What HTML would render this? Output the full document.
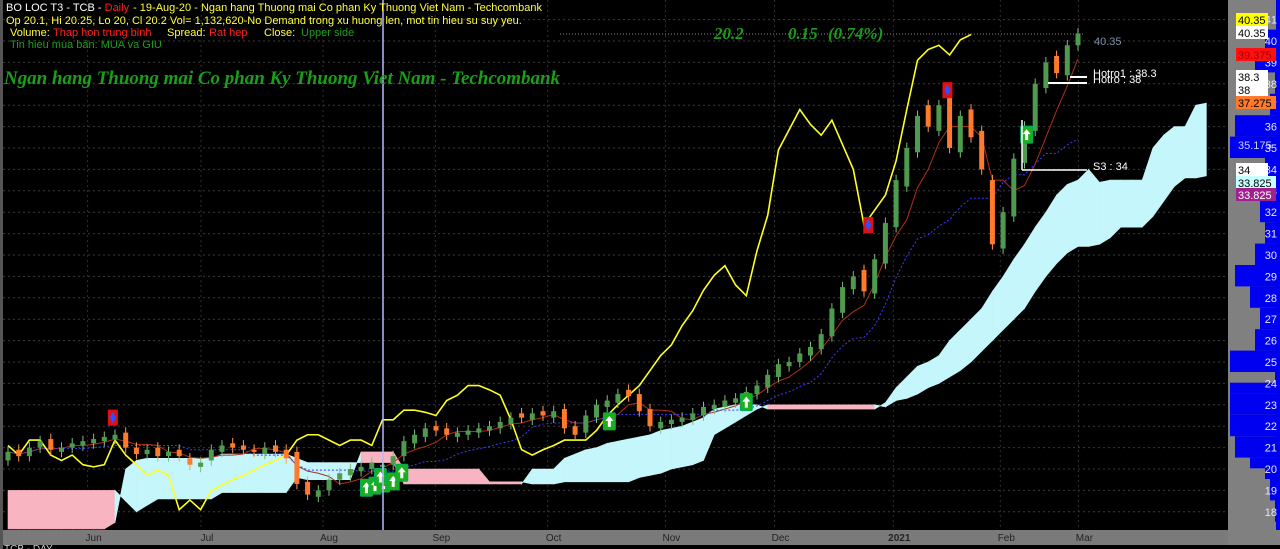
<!DOCTYPE html>
<html><head><meta charset="utf-8">
<style>
html,body{margin:0;padding:0;background:#000;width:1280px;height:549px;overflow:hidden}
svg{display:block}
.sans{font-family:"Liberation Sans",sans-serif}
.serif{font-family:"Liberation Serif",serif;font-style:italic}
</style></head>
<body>
<svg id="chart" class="sans" width="1280" height="549" viewBox="0 0 1280 549" xmlns="http://www.w3.org/2000/svg">
  <rect x="0" y="0" width="1280" height="549" fill="#000"/>
  <rect x="0" y="0" width="3" height="549" fill="#555"/>
  <rect x="1228" y="0" width="52" height="545" fill="#808080"/>
  <g id="grid"></g>
  <g id="profile"></g>
  <g id="cloud"></g>
  <g id="lines"></g>
  <g id="candles"></g>
  <g id="signals"></g>
  <line x1="383" y1="0" x2="383" y2="530" stroke="#b8b8ff" stroke-width="1.5"/>
  <rect x="3" y="530" width="1225" height="15" fill="#7a7a7a"/>
  <g id="xaxis"></g>
  <g id="yaxis"></g>
  <g font-size="11">
    <text x="6" y="11"><tspan fill="#fff">BO LOC T3 - TCB - </tspan><tspan fill="#ff2020">Daily</tspan><tspan fill="#ffff40" dx="4">- 19-Aug-20 - Ngan hang Thuong mai Co phan Ky Thuong Viet Nam - Techcombank</tspan></text>
    <text x="6" y="24" fill="#ffff40">Op 20.1, Hi 20.25, Lo 20, Cl 20.2  Vol= 1,132,620-No Demand trong xu huong len, mot tin hieu su suy yeu.</text>
    <text x="10" y="36" fill="#ffff40">Volume:</text>
    <text x="53" y="36" fill="#ff2020">Thap hon trung binh</text>
    <text x="167" y="36" fill="#ffff40">Spread:</text>
    <text x="209" y="36" fill="#ff2020">Rat hep</text>
    <text x="264" y="36" fill="#ffff40">Close:</text>
    <text x="301" y="36" fill="#1aa01a">Upper side</text>
    <text x="10" y="48" fill="#1aa01a">Tin hieu mua bán: MUA va GIU</text>
  </g>
  <text x="4" y="84" class="serif" font-weight="bold" font-size="19" fill="#18a018" textLength="556">Ngan hang Thuong mai Co phan Ky Thuong Viet Nam - Techcombank</text>
  <line x1="560" y1="34" x2="1085" y2="34" stroke="#888" stroke-dasharray="1,2"/>
  <g class="serif" font-size="17" font-weight="bold" fill="#18a018">
    <text x="714" y="39">20.2</text>
    <text x="788" y="39">0.15</text>
    <text x="828" y="39">(0.74%)</text>
  </g>
  <g font-size="11" fill="#fff">
    <line x1="1070" y1="77" x2="1087" y2="77" stroke="#fff" stroke-width="2"/>
    <line x1="1048" y1="83" x2="1087" y2="83" stroke="#fff" stroke-width="2"/>
    <text x="1093" y="77">Hotro1 : 38.3</text>
    <text x="1093" y="83">Hotro : 38</text>
    <line x1="1022" y1="120" x2="1022" y2="170" stroke="#fff" stroke-width="1.5"/>
    <line x1="1022" y1="170" x2="1087" y2="170" stroke="#fff" stroke-width="1.5"/>
    <text x="1093" y="170">S3 : 34</text>
    <text x="1094" y="45" fill="#8090b0">40.35</text>
  </g>
  <g id="tags"></g>
  <text x="4" y="552" font-size="10" fill="#ccc">TCB - DAY</text>
</svg>
<script>
// ---- data ----
const closes=[20.8,20.6,21.0,21.3,20.9,21.0,21.2,21.3,21.4,21.5,21.6,21.0,20.7,20.9,20.6,20.8,20.6,20.2,20.3,20.9,21.1,21.0,20.9,20.8,21.0,20.8,20.5,19.3,18.8,19.0,19.5,19.8,20.0,20.1,20.3,20.2,20.6,21.3,21.6,21.9,21.8,21.6,21.7,21.8,21.9,22.0,22.2,22.4,22.4,22.6,22.5,22.7,21.9,21.6,22.5,23.0,23.2,23.5,23.4,22.7,22.0,22.2,22.3,22.4,22.6,22.9,23.0,23.2,23.3,23.6,23.9,24.4,24.9,25.0,25.4,25.7,26.3,27.5,28.5,29.0,28.3,29.8,31.5,33.5,35.0,36.5,36.0,37.0,35.0,36.5,35.5,34.0,30.5,32.0,34.5,36.0,38.0,39.0,38.5,39.8,40.35];
const opens=[20.4,20.9,20.6,21.0,21.4,20.8,21.0,21.1,21.2,21.3,21.4,21.7,21.0,20.7,21.0,20.6,20.9,20.5,20.1,20.4,20.8,21.2,21.1,20.9,20.7,21.1,20.9,20.8,19.4,18.7,19.0,19.5,19.7,19.9,20.0,20.1,20.2,20.6,21.2,21.5,22.0,21.9,21.5,21.6,21.7,21.8,21.9,22.1,22.6,22.3,22.7,22.4,22.8,22.0,21.7,22.4,22.9,23.1,23.7,23.5,22.8,21.9,22.1,22.2,22.3,22.5,22.8,22.9,23.1,23.2,23.5,23.8,24.3,24.8,25.0,25.3,25.6,26.2,27.3,28.4,29.3,28.2,29.6,31.3,33.2,34.8,37.0,35.8,37.5,34.8,36.8,35.8,33.5,30.3,31.8,34.3,35.8,37.8,39.3,38.4,39.8];
const yellowLag=[21.1,20.65,21.35,21.35,20.65,20.4,20.65,20.2,20.1,20.2,21.35,20.65,20.2,19.7,19.95,19.7,18.1,18.55,18.1,19.0,19.25,19.5,19.7,19.95,20.2,20.4,20.65,21.35,21.6,21.6,21.35,21.1,21.35,21.35,21.1,22.3,22.3,22.75,22.75,22.65,22.5,23.2,23.45,23.9,23.9,23.7,23.45,22.3,20.9,20.65,20.9,21.1,21.35,21.35,21.35,21.8,22.5,23.0,23.45,23.9,24.6,25.3,25.8,26.7,27.4,28.35,29.05,29.5,28.6,28.1,30.2,31.85,34.9,35.85,36.8,36.1,35.6,36.3,35.15,34.0,31.4,32.1,32.8,34.4,36.8,39.1,39.6,39.8,39.35,40.05,40.3];
const spanA=[17.2,17.2,17.2,17.2,17.2,17.2,17.2,17.2,17.2,17.2,17.5,20.0,20.4,20.5,20.5,20.5,20.5,20.5,20.5,20.5,20.7,20.7,20.7,20.7,20.7,20.7,20.7,20.5,20.3,20.3,20.3,20.3,20.3,20.3,20.3,20.3,20.3,19.3,19.3,19.3,19.3,19.3,19.3,19.3,19.3,19.3,19.3,19.3,19.3,20.0,20.0,20.0,20.5,20.7,20.9,21.0,21.2,21.3,21.4,21.5,21.6,21.8,21.9,22.0,22.2,22.4,22.8,22.9,23.0,23.0,23.0,22.8,22.8,22.8,22.8,22.8,22.8,22.8,22.8,22.8,22.8,22.8,23.1,23.8,24.3,24.8,25.0,25.3,26.0,26.5,27.0,27.5,28.3,29.0,29.8,30.5,31.3,32.0,32.8,33.3,33.5,34.0,33.4,33.5,33.5,33.5,33.5,35.0,35.6,36.0,36.0,37.0,37.1];
const spanB=[19.0,19.0,19.0,19.0,19.0,19.0,19.0,19.0,19.0,19.0,19.0,18.5,18.0,18.3,18.6,18.6,18.6,18.6,18.6,18.6,18.9,18.9,18.9,18.9,18.9,18.9,18.9,19.6,19.5,19.5,19.5,19.5,19.5,20.8,20.8,20.8,20.8,20.0,20.0,20.0,20.0,20.0,20.0,20.0,20.0,19.4,19.4,19.4,19.4,19.3,19.3,19.3,19.4,19.4,19.4,19.4,19.4,19.4,19.4,19.6,19.7,19.8,20.0,20.1,20.2,20.4,21.6,21.9,22.2,22.5,22.8,23.0,23.0,23.0,23.0,23.0,23.0,23.0,23.0,23.0,23.0,23.0,22.9,23.2,23.3,23.5,23.8,24.0,24.3,24.6,25.0,25.5,26.0,26.5,27.0,27.5,28.3,29.0,29.6,30.1,30.4,30.4,30.5,30.8,31.3,31.3,31.3,31.8,32.5,33.2,33.6,33.6,33.7];
const profileLevels=[18,19,20,20.5,21,22,23,24,24.5,25,26,27,28,29,30,31,32,33,34,35,36,37,38,39,40];
const profileWidths=[5,10,15,30,45,50,50,50,5,50,25,20,30,45,25,15,20,15,15,50,45,10,5,25,15];
const yTicks=[18,19,20,21,22,23,24,25,26,27,28,29,30,31,32,33,34,35,36,37,38,39,40,41];
const monthLabels=["Jun","Jul","Aug","Sep","Oct","Nov","Dec","2021","Feb","Mar"];
const monthIdx=[8,18.6,30,40.5,51,62,72.2,83.3,93.3,100.6];
const buyIdx=[33.5,34.3,35.1,36,36.8,34.8,56.2,69,95.2];
const buyPrice=[19.1,19.2,19.3,19.4,19.8,19.6,22.2,23.1,35.6];
const sellIdx=[9.8,80.4,87.8];
const sellPrice=[22.4,31.4,37.7];
const tagVals=[40.35,40.35,39.375,38.3,38,37.275,34,33.825,33.825];
const tagColors=["#ffff00","#ffffff","#ff1010","#ffffff","#ffffff","#ff7a2a","#ffffff","#c8ffff","#a0208f"];
const tagTextColors=["#000","#000","#a00","#000","#000","#000","#000","#000","#fff"];
const tagY=[20,33,55,77,90,103,170,183,195];

// ---- scales ----
const NS="http://www.w3.org/2000/svg";
const x=i=>8+i*10.7;
const y=v=>41+(40-v)*21.4;
function mk(tag,attrs,parent){const e=document.createElementNS(NS,tag);for(const k in attrs)e.setAttribute(k,attrs[k]);parent.appendChild(e);return e;}
const G=id=>document.getElementById(id);
const cy=v=>Math.min(530,y(v));

// grid
yTicks.forEach(v=>{const l=mk('line',{x1:3,x2:1228,y1:y(v),y2:y(v),stroke:'#3a3a3a','stroke-dasharray':'2,3'},G('grid'));

});
monthIdx.forEach(m=>{const l=mk('line',{x1:x(m)-6,x2:x(m)-6,y1:0,y2:530,stroke:'#303030','stroke-dasharray':'2,3'},G('grid'));

});

// volume profile
profileLevels.forEach((lv,k)=>{const h=(k<profileLevels.length-1?(profileLevels[k+1]-lv):1)*21.4;
const r=mk('rect',{x:1280-profileWidths[k],y:y(lv)-h+10,width:profileWidths[k],height:h,fill:'#0000f0'},G('profile'));

});
mk('rect',{x:1276,y:0,width:4,height:530,fill:'#0000f0'},G('profile'));

// cloud
for(let i=0;i<spanA.length-1;i++){
  const bull=(spanA[i]+spanA[i+1])>=(spanB[i]+spanB[i+1]);
  const p=mk('polygon',{points:`${x(i)},${cy(spanA[i])} ${x(i+1)},${cy(spanA[i+1])} ${x(i+1)},${cy(spanB[i+1])} ${x(i)},${cy(spanB[i])}`,fill:bull?'#c4f6fb':'#f8b4c0',stroke:bull?'#c4f6fb':'#f8b4c0','stroke-width':0.6},G('cloud'));
  
  
}

// indicator lines (tenkan / kijun from closes)
function ma(n){return closes.map((c,i)=>{const s=closes.slice(Math.max(0,i-n+1),i+1);return (Math.max(...s)+Math.min(...s))/2;});}
const tenkan=ma(5), kijun=ma(13);
const tk=mk('polyline',{points:tenkan.map((v,i)=>x(i)+','+y(v)).join(' '),fill:'none',stroke:'#b0301a','stroke-width':1},G('lines'));


const kj=mk('polyline',{points:kijun.map((v,i)=>x(i)+','+y(v)).join(' '),fill:'none',stroke:'#3a3aff','stroke-width':1,'stroke-dasharray':'2,2'},G('lines'));


const yl=mk('polyline',{points:yellowLag.map((v,i)=>x(i)+','+y(v)).join(' '),fill:'none',stroke:'#ffff20','stroke-width':1.6},G('lines'));



// candles
closes.forEach((c,i)=>{const o=opens[i];const up=c>=o;const col=up?'#4e9a4e':'#ff7a2a';
 const hi=Math.max(o,c)+0.25, lo=Math.min(o,c)-0.25;
 const w=mk('line',{x1:x(i),x2:x(i),y1:y(hi),y2:y(lo),stroke:up?'#7fbf7f':'#ff9a50','stroke-width':1},G('candles'));
 
 
 const b=mk('rect',{x:x(i)-2.5,y:y(Math.max(o,c)),width:5,height:Math.max(1.5,Math.abs(y(o)-y(c))),fill:col},G('candles'));
 
 
});

// signals
buyIdx.forEach((bi,k)=>{const gx=x(bi),gy=y(buyPrice[k]);
 const r=mk('rect',{x:gx-6,y:gy-9,width:12,height:17,fill:'#1bb01b',stroke:'#0a6',rx:1},G('signals'));
 
 
 mk('polygon',{points:`${gx},${gy-6} ${gx+4},${gy-1} ${gx+1.5},${gy-1} ${gx+1.5},${gy+5} ${gx-1.5},${gy+5} ${gx-1.5},${gy-1} ${gx-4},${gy-1}`,fill:'#fff'},G('signals'));
});
sellIdx.forEach((si,k)=>{const gx=x(si),gy=y(sellPrice[k]);
 const r=mk('rect',{x:gx-5,y:gy-8,width:10,height:16,fill:'#e01010'},G('signals'));
 
 
 mk('polygon',{points:`${gx},${gy-6} ${gx+3},${gy} ${gx},${gy+6} ${gx-3},${gy}`,fill:'#3050ff'},G('signals'));
});

// x axis
monthLabels.forEach((m,k)=>{const t=mk('text',{x:x(monthIdx[k]),y:541,'font-size':10,fill:'#222','text-anchor':'middle','font-weight':m==='2021'?'bold':'normal'},G('xaxis'));t.textContent=m;
 
 });

// y axis
yTicks.forEach(v=>{const t=mk('text',{x:1277,y:y(v)+4,'font-size':11,fill:'#e8e8ff','text-anchor':'end'},G('yaxis'));t.textContent=v;
 
 });

// price tags
tagVals.forEach((v,k)=>{const ty=tagY[k];
 const r=mk('rect',{x:1236,y:ty-7,width:k===2||k===5||k>=7?40:32,height:13,fill:tagColors[k]},G('tags'));
 
 
 const t=mk('text',{x:1238,y:ty+4,'font-size':11,fill:tagTextColors[k]},G('tags'));t.textContent=v;
 
 });
const t35=mk('text',{x:1238,y:149,'font-size':11,fill:'#c8d0ff'},G('tags'));t35.textContent='35.175';


</script>
</body></html>
